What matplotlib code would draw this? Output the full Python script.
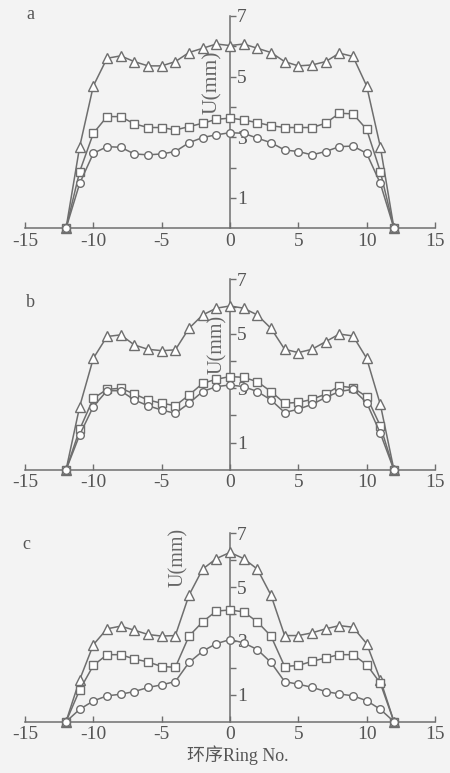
import matplotlib
matplotlib.use("Agg")
import matplotlib.pyplot as plt
import numpy as np

# ring numbers -12 ... 12
rings = list(range(-12, 13))

# panel a
a_tri = [0, 2.69, 4.69, 5.60, 5.68, 5.49, 5.35, 5.35, 5.49, 5.79, 5.93, 6.07, 6.02,
         6.07, 5.93, 5.79, 5.49, 5.35, 5.38, 5.49, 5.77, 5.66, 4.69, 2.69, 0]
a_sq = [0, 1.87, 3.13, 3.68, 3.68, 3.44, 3.32, 3.32, 3.24, 3.35, 3.46, 3.59, 3.63,
        3.57, 3.48, 3.38, 3.32, 3.32, 3.32, 3.46, 3.79, 3.77, 3.26, 1.87, 0]
a_circ = [0, 1.48, 2.47, 2.69, 2.67, 2.45, 2.42, 2.45, 2.53, 2.82, 2.99, 3.08, 3.15,
          3.13, 2.97, 2.82, 2.58, 2.53, 2.42, 2.53, 2.69, 2.71, 2.47, 1.48, 0]

# panel b
b_tri = [0, 2.33, 4.10, 4.90, 4.96, 4.59, 4.43, 4.38, 4.41, 5.20, 5.69, 5.94, 6.02,
         5.94, 5.69, 5.20, 4.43, 4.31, 4.43, 4.71, 4.99, 4.92, 4.10, 2.41, 0]
b_sq = [0, 1.49, 2.63, 2.96, 3.00, 2.79, 2.57, 2.45, 2.36, 2.75, 3.18, 3.33, 3.43,
        3.40, 3.24, 2.88, 2.45, 2.48, 2.59, 2.79, 3.08, 3.02, 2.69, 1.62, 0]
b_circ = [0, 1.29, 2.33, 2.91, 2.91, 2.57, 2.36, 2.20, 2.08, 2.45, 2.88, 3.06, 3.12,
          3.06, 2.88, 2.57, 2.11, 2.23, 2.41, 2.66, 2.88, 2.96, 2.47, 1.35, 0]

# panel c
c_tri = [0, 1.56, 2.86, 3.45, 3.55, 3.40, 3.24, 3.18, 3.20, 4.70, 5.67, 6.06, 6.29,
         6.06, 5.67, 4.70, 3.20, 3.20, 3.30, 3.45, 3.57, 3.51, 2.90, 1.56, 0]
c_sq = [0, 1.18, 2.09, 2.49, 2.49, 2.33, 2.22, 2.05, 2.02, 3.18, 3.71, 4.11, 4.15,
        4.08, 3.71, 3.18, 2.05, 2.09, 2.24, 2.37, 2.49, 2.49, 2.12, 1.43, 0]
c_circ = [0, 0.46, 0.77, 0.96, 1.02, 1.12, 1.27, 1.37, 1.49, 2.20, 2.62, 2.90, 3.05,
          2.93, 2.68, 2.20, 1.49, 1.39, 1.28, 1.12, 1.03, 0.96, 0.78, 0.46, 0]

x_ticks = [-15, -10, -5, 0, 5, 10, 15]
y_ticks = [1, 2, 3, 4, 5, 6, 7]
y_labels = ["1", "", "3", "", "5", "", "7"]

plt.rcParams["font.family"] = ["Liberation Serif", "Noto Sans CJK SC"]

gray = "#6e6e6e"
bg = "#f3f3f3"

fig = plt.figure(figsize=(4.5, 7.73), dpi=100, facecolor=bg)

# name, axes rect, series, U(mm) label spot, its size, panel letter spot
panels = [
    ("a", [0.0556, 0.7046, 0.911, 0.2750], a_tri, a_sq, a_circ, (-1.25, 4.8), 15.5, (0.0667, 0.9806)),
    ("b", [0.0556, 0.3920, 0.911, 0.2467], b_tri, b_sq, b_circ, (-0.95, 4.6), 14.5, (0.0667, 0.6090)),
    ("c", [0.0556, 0.0664, 0.911, 0.2437], c_tri, c_sq, c_circ, (-3.8, 6.1), 14.5, (0.0590, 0.2950)),
]

for name, pos, tri, sq, circ, ulab, ufs, lpos in panels:
    ax = fig.add_axes(pos)
    ax.set_facecolor(bg)
    for vals, mk, ms in [(tri, "^", 6.5), (sq, "s", 5.5), (circ, "o", 5.5)]:
        ax.plot(rings, vals, color=gray, lw=1.1, marker=mk, ms=ms,
                mfc="white", mec=gray, mew=1.0, clip_on=False, zorder=3)

    ax.set_xlim(-15, 15)
    ax.set_ylim(0, 7)

    ax.spines["top"].set_visible(False)
    ax.spines["left"].set_visible(False)
    ax.spines["right"].set_position(("data", 0))
    ax.spines["right"].set_color(gray)
    ax.spines["bottom"].set_color(gray)
    ax.spines["right"].set_linewidth(1.1)
    ax.spines["bottom"].set_linewidth(1.1)

    ax.yaxis.tick_right()
    ax.set_yticks(y_ticks)
    ax.set_yticklabels(y_labels)
    ax.tick_params(axis="y", direction="out", length=4, width=1.0, color=gray,
                   labelsize=14, labelcolor="#555555", pad=1)

    ax.set_xticks(x_ticks)
    ax.set_xticklabels([str(t) for t in x_ticks])
    ax.tick_params(axis="x", direction="in", length=4, width=1.0, color=gray,
                   labelsize=14, labelcolor="#555555", pad=3)

    ax.text(ulab[0], ulab[1], "U(mm)", rotation=90, ha="center", va="center",
            fontsize=ufs, color="#666666")

    fig.text(lpos[0], lpos[1], name, fontsize=13,
             color="#555555", ha="center", va="center")

fig.text(0.528, 0.0225, "环序Ring No.", ha="center", va="center",
         fontsize=13, color="#555555")

fig.savefig("out.png", dpi=100, facecolor=bg)
